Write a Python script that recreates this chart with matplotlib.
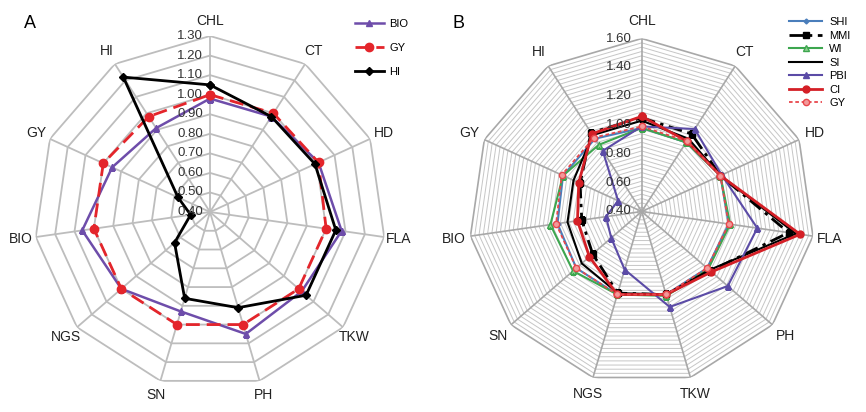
import numpy as np
import matplotlib
matplotlib.use('Agg')
import matplotlib.pyplot as plt
from matplotlib import font_manager
from matplotlib.transforms import offset_copy

# ---------------- data ----------------
# Panel A
cats_a = ['CHL', 'CT', 'HD', 'FLA', 'TKW', 'PH', 'SN', 'NGS', 'BIO', 'GY', 'HI']
bio_a = [0.98, 0.98, 1.01, 1.08, 1.02, 1.05, 0.93, 1.00, 1.06, 0.95, 0.91]
gy_a = [1.00, 1.00, 1.01, 1.00, 1.00, 1.00, 1.00, 1.00, 1.00, 1.00, 0.98]
hi_a = [1.05, 0.98, 0.99, 1.05, 1.05, 0.91, 0.86, 0.64, 0.50, 0.58, 1.22]
ticks_a = [0.40, 0.50, 0.60, 0.70, 0.80, 0.90, 1.00, 1.10, 1.20, 1.30]

# Panel B
cats_b = ['CHL', 'CT', 'HD', 'FLA', 'PH', 'TKW', 'NGS', 'SN', 'BIO', 'GY', 'HI']
shi_b = [0.98, 0.97, 1.00, 1.01, 1.00, 1.00, 1.00, 1.00, 0.99, 1.00, 1.00]
mmi_b = [1.05, 1.04, 1.00, 1.43, 1.03, 1.00, 0.99, 0.85, 0.82, 0.87, 1.05]
wi_b = [0.98, 0.97, 1.00, 1.02, 1.01, 1.01, 1.00, 1.03, 1.04, 1.00, 0.95]
si_b = [1.03, 1.00, 1.00, 1.48, 1.02, 1.00, 0.99, 0.95, 0.92, 0.92, 1.03]
pbi_b = [0.99, 1.08, 1.01, 1.21, 1.19, 1.09, 0.82, 0.68, 0.65, 0.58, 0.90]
ci_b = [1.06, 0.98, 1.00, 1.51, 1.04, 1.00, 1.00, 0.88, 0.85, 0.88, 1.04]
gy_b = [0.99, 0.98, 1.00, 1.01, 1.00, 1.00, 1.00, 1.00, 1.00, 1.01, 1.01]
ticks_b = [0.40, 0.60, 0.80, 1.00, 1.20, 1.40, 1.60]

# ---------------- fonts ----------------
avail = {f.name for f in font_manager.fontManager.ttflist}
NARROW = 'Liberation Sans Narrow' if 'Liberation Sans Narrow' in avail else 'Liberation Sans'
plt.rcParams['font.family'] = [NARROW, 'DejaVu Sans']

W, H = 866, 412
fig = plt.figure(figsize=(W / 100, H / 100), dpi=100)
fig.patch.set_facecolor('white')


def make_ax(cx, cy, rad):
    ax = fig.add_axes([(cx - rad) / W, (H - cy - rad) / H, 2 * rad / W, 2 * rad / H],
                      projection='polar')
    ax.set_theta_zero_location('N')
    ax.set_theta_direction(-1)
    ax.grid(False)
    ax.spines['polar'].set_visible(False)
    ax.set_xticks([])
    ax.set_yticks([])
    ax.patch.set_alpha(0)
    return ax


def closed(v):
    return list(v) + [v[0]]


def draw_grid(ax, n, rings, rmin, rmax, ring_color, ring_lw, spoke_color, spoke_lw):
    ang = np.arange(n) * 2 * np.pi / n
    angc = closed(list(ang))
    for r in rings:
        ax.plot(angc, [r] * (n + 1), color=ring_color, lw=ring_lw, zorder=1, solid_joinstyle='miter')
    ax.plot(angc, [rmax] * (n + 1), color=spoke_color, lw=spoke_lw, zorder=1, solid_joinstyle='miter')
    for a in ang:
        ax.plot([a, a], [rmin, rmax], color=spoke_color, lw=spoke_lw, zorder=1)
    return ang


CAT_FS = 10 if NARROW == 'Liberation Sans' else 11
TICK_FS = 9.5 if NARROW == 'Liberation Sans' else 10.5

# ---------------- Panel A ----------------
RA = 176
axA = make_ax(210, 212, RA)
rminA, rmaxA = ticks_a[0], ticks_a[-1]
axA.set_ylim(rminA, rmaxA)
angA = draw_grid(axA, len(cats_a), ticks_a[1:-1], rminA, rmaxA, '#BDBDBD', 1.3, '#BDBDBD', 1.3)
angAc = closed(list(angA))

lA1, = axA.plot(angAc, closed(bio_a), color='#6E4DAA', lw=1.8, marker='^', ms=5, zorder=3, label='BIO')
lA2, = axA.plot(angAc, closed(gy_a), color='#E4252B', lw=2.0, ls=(0, (5, 2.5)), marker='o', ms=6,
                zorder=4, label='GY')
lA3, = axA.plot(angAc, closed(hi_a), color='black', lw=2.0, marker='D', ms=4, zorder=5, label='HI')

labr_A = rminA + 191 / RA * (rmaxA - rminA)
for a, c in zip(angA, cats_a):
    axA.text(a, labr_A, c, ha='center', va='center', fontsize=CAT_FS, color='#222222', clip_on=False)
trA = offset_copy(axA.transData, fig=fig, x=-7, y=0, units='dots')
for t in ticks_a:
    axA.text(0, t, f'{t:.2f}', ha='right', va='center', fontsize=TICK_FS, color='#333333',
             transform=trA, clip_on=False, zorder=6)

fig.text(24 / W, 1 - 23 / H, 'A', fontsize=13, family='Liberation Sans', ha='left', va='center')
fig.legend(handles=[lA1, lA2, lA3], loc='upper left', bbox_to_anchor=(355 / W, 1 - 19 / H),
           frameon=False, fontsize=8, handlelength=2.6, handletextpad=0.5, labelspacing=1.25,
           borderpad=0, borderaxespad=0)

# ---------------- Panel B ----------------
RB = 173
axB = make_ax(641.7, 211.5, RB)
rminB, rmaxB = ticks_b[0], ticks_b[-1]
axB.set_ylim(rminB, rmaxB)
minor_b = np.arange(1, 40) * 0.03 + rminB
angB = draw_grid(axB, len(cats_b), minor_b, rminB, rmaxB, '#C6C6C6', 0.7, '#A8A8A8', 1.2)
angBc = closed(list(angB))

lB1, = axB.plot(angBc, closed(shi_b), color='#4A7EBB', lw=1.5, marker='D', ms=2.5, zorder=3, label='SHI')
lB2, = axB.plot(angBc, closed(mmi_b), color='black', lw=2.0, ls=(0, (5, 2, 1.2, 2)), marker='s', ms=4.5,
                zorder=3, label='MMI')
lB3, = axB.plot(angBc, closed(wi_b), color='#3DA64F', lw=1.5, marker='^', ms=4, mfc='#8FD08F',
                zorder=3, label='WI')
lB4, = axB.plot(angBc, closed(si_b), color='black', lw=1.5, zorder=3, label='SI')
lB5, = axB.plot(angBc, closed(pbi_b), color='#5B4BA6', lw=1.5, marker='^', ms=4, zorder=3, label='PBI')
lB6, = axB.plot(angBc, closed(ci_b), color='#D41F26', lw=2.0, marker='o', ms=5, zorder=4, label='CI')
lB7, = axB.plot(angBc, closed(gy_b), color='#E8474C', lw=1.3, ls=(0, (2, 1.5)), marker='o', ms=4.5,
                mfc='#F29A9A', zorder=4, label='GY')

labr_B = rminB + 190 / RB * (rmaxB - rminB)
for a, c in zip(angB, cats_b):
    axB.text(a, labr_B, c, ha='center', va='center', fontsize=CAT_FS, color='#222222', clip_on=False)
trB = offset_copy(axB.transData, fig=fig, x=-10, y=0, units='dots')
for t in ticks_b:
    axB.text(0, t, f'{t:.2f}', ha='right', va='center', fontsize=TICK_FS, color='#333333',
             transform=trB, clip_on=False, zorder=6)

fig.text(452 / W, 1 - 24 / H, 'B', fontsize=13, family='Liberation Sans', ha='left', va='center')
fig.legend(handles=[lB1, lB2, lB3, lB4, lB5, lB6, lB7], loc='upper left',
           bbox_to_anchor=(789 / W, 1 - 17 / H), frameon=False, fontsize=8, handlelength=3.0,
           handletextpad=0.6, labelspacing=0.32, borderpad=0, borderaxespad=0)

fig.savefig('out.png', dpi=100, facecolor='white')
